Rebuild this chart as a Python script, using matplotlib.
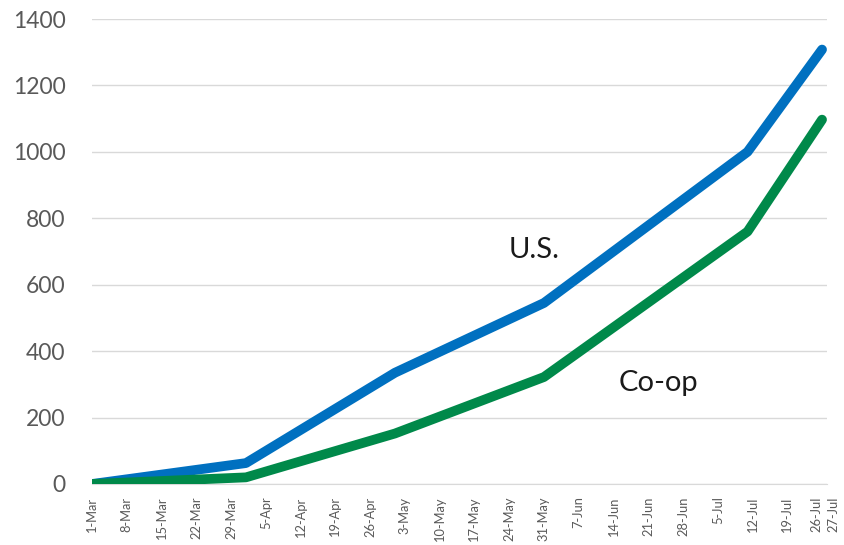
import matplotlib
matplotlib.use("Agg")
import matplotlib.pyplot as plt

# days counted from 1-Mar
tick_days = [0, 7, 14, 21, 28, 35, 42, 49, 56, 63, 70, 77, 84, 91, 98, 105,
             112, 119, 126, 133, 140, 147, 148]
tick_labels = ['1-Mar', '8-Mar', '15-Mar', '22-Mar', '29-Mar', '5-Apr', '12-Apr',
               '19-Apr', '26-Apr', '3-May', '10-May', '17-May', '24-May', '31-May',
               '7-Jun', '14-Jun', '21-Jun', '28-Jun', '5-Jul', '12-Jul', '19-Jul',
               '26-Jul', '27-Jul']

us_days = [0, 31, 61, 91, 132, 147]
us_vals = [0, 63, 335, 545, 1000, 1308]
coop_days = [0, 31, 61, 91, 132, 147]
coop_vals = [0, 20, 152, 322, 760, 1097]

plt.rcParams['font.family'] = ['Lato', 'DejaVu Sans']

fig = plt.figure(figsize=(8.45, 5.45), dpi=100)
ax = fig.add_axes([92/845, 61/545, 735/845, 465/545])

ax.plot(us_days, us_vals, color='#0070C0', lw=7, solid_capstyle='round',
        solid_joinstyle='round', zorder=3)
ax.plot(coop_days, coop_vals, color='#00894A', lw=7, solid_capstyle='round',
        solid_joinstyle='round', zorder=3)

ax.set_xlim(0, 148)
ax.set_ylim(0, 1400)
ax.set_yticks(range(0, 1401, 200))
ax.tick_params(axis='y', length=0, pad=19, labelsize=16.5, labelcolor='#595959')
ax.grid(axis='y', color='#d9d9d9', lw=1)
ax.set_axisbelow(True)

ax.set_xticks(tick_days)
ax.set_xticklabels(tick_labels, rotation=90, fontsize=9.3, color='#595959')
ax.tick_params(axis='x', length=0, pad=9)
# push the last two crowded labels apart
labs = ax.get_xticklabels()
labs[-2].set_ha('right')
labs[-1].set_ha('left')

for s in ['top', 'right', 'left']:
    ax.spines[s].set_visible(False)
ax.spines['bottom'].set_color('#d9d9d9')

ax.text(89, 705, 'U.S.', fontsize=21, color='#1a1a1a', ha='center', va='center')
ax.text(114, 304, 'Co-op', fontsize=21, color='#1a1a1a', ha='center', va='center')

fig.savefig('out.png', dpi=100)
